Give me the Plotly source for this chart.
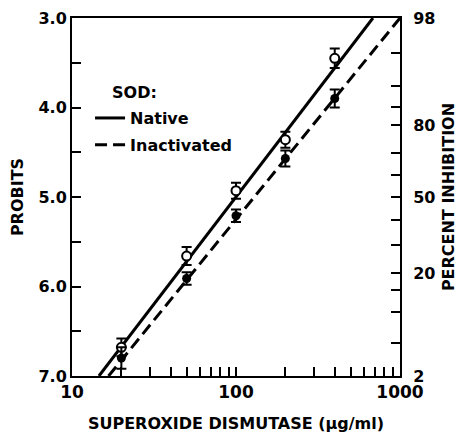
import plotly.graph_objects as go

# Data
conc = [20, 50, 100, 200, 400]
native_probit = [6.68, 5.66, 4.93, 4.36, 3.45]
native_err = [0.10, 0.10, 0.09, 0.09, 0.11]
inact_probit = [6.80, 5.91, 5.21, 4.57, 3.90]
inact_err = [0.12, 0.07, 0.07, 0.09, 0.10]

native_fit_x = [14.6, 684]
native_fit_y = [7.0, 3.0]
inact_fit_x = [16.7, 1000]
inact_fit_y = [7.0, 3.0]

probit_ticks = [3.0, 3.5, 4.0, 4.5, 5.0, 5.5, 6.0, 6.5, 7.0]
probit_labels = ["3.0", "", "4.0", "", "5.0", "", "6.0", "", "7.0"]
pct_tickpos = [3.0, 3.39, 3.76, 3.99, 4.20, 4.51, 4.75, 5.0, 5.26, 5.54, 5.85, 6.04, 6.28, 6.63, 7.0]
pct_labels = ["98", "", "", "", "80", "", "", "50", "", "", "20", "", "", "", "2"]
x_ticks = [10, 20, 30, 40, 50, 60, 70, 80, 90, 100, 200, 300, 400, 500, 600, 700, 800, 900, 1000]
x_labels = ["10"] + [""] * 8 + ["100"] + [""] * 8 + ["1000"]

FONT = "DejaVu Sans"
XTICKFONT = dict(family=FONT, size=17, weight="bold", color="black")
YTICKFONT = dict(family=FONT, size=16, weight="bold", color="black")
fig = go.Figure()

fig.add_trace(go.Scatter(x=native_fit_x, y=native_fit_y, mode="lines", name="Native",
                         legendgroup="a", line=dict(color="black", width=3)))
fig.add_trace(go.Scatter(x=inact_fit_x, y=inact_fit_y, mode="lines", name="Inactivated",
                         legendgroup="b", line=dict(color="black", width=3, dash="12px,6px")))
fig.add_trace(go.Scatter(x=conc, y=native_probit, mode="markers", showlegend=False,
                         marker=dict(symbol="circle", size=9, color="white",
                                     line=dict(color="black", width=2)),
                         error_y=dict(type="data", array=native_err, color="black",
                                      thickness=2, width=5)))
fig.add_trace(go.Scatter(x=conc, y=inact_probit, mode="markers", showlegend=False,
                         marker=dict(symbol="circle", size=9, color="black"),
                         error_y=dict(type="data", array=inact_err, color="black",
                                      thickness=2, width=5)))
# invisible trace to activate the right axis
fig.add_trace(go.Scatter(x=[10], y=[5], yaxis="y2", mode="markers",
                         marker=dict(opacity=0), showlegend=False, hoverinfo="skip"))

fig.add_annotation(text="SOD:", xref="paper", yref="paper", x=0.115, y=0.793,
                   xanchor="left", yanchor="middle", showarrow=False,
                   font=dict(family=FONT, size=16, weight="bold"))

fig.update_layout(
    width=455, height=425,
    margin=dict(l=64, r=63, t=10, b=57, autoexpand=False),
    plot_bgcolor="white", paper_bgcolor="white",
    font=dict(family=FONT, size=16, color="black", weight="bold"),
    showlegend=True,
    legend=dict(x=0.055, y=0.768, xanchor="left", yanchor="top",
                bgcolor="rgba(0,0,0,0)", traceorder="grouped", tracegroupgap=3,
                font=dict(family=FONT, size=16, weight="bold"),
                itemwidth=30),
    xaxis=dict(type="log", range=[1, 3], tickvals=x_ticks, ticktext=x_labels,
               automargin=False, tickfont=XTICKFONT,
               ticks="inside", ticklen=9, tickwidth=2, tickcolor="black",
               showline=True, linecolor="black", linewidth=2, mirror=True,
               showgrid=False, zeroline=False,
               title=dict(text="SUPEROXIDE DISMUTASE (µg/ml)", standoff=16,
                          font=dict(family=FONT, size=16, weight="bold"))),
    yaxis=dict(range=[7.0, 3.0], autorange=False, tickvals=probit_ticks, ticktext=probit_labels,
               automargin=False, tickfont=YTICKFONT,
               ticks="inside", ticklen=9, tickwidth=2, tickcolor="black",
               showline=True, linecolor="black", linewidth=2,
               showgrid=False, zeroline=False,
               title=dict(text="PROBITS", standoff=12,
                          font=dict(family=FONT, size=16, weight="bold"))),
    yaxis2=dict(overlaying="y", side="right", range=[7.0, 3.0], autorange=False,
                tickvals=pct_tickpos, ticktext=pct_labels, automargin=False,
                tickfont=YTICKFONT,
                ticks="inside", ticklen=9, tickwidth=2, tickcolor="black",
                ticklabelstandoff=8,
                showline=True, linecolor="black", linewidth=2,
                showgrid=False, zeroline=False,
                title=dict(text="PERCENT INHIBITION", standoff=8,
                           font=dict(family=FONT, size=16, weight="bold"))),
)

fig.write_html("out.html")
